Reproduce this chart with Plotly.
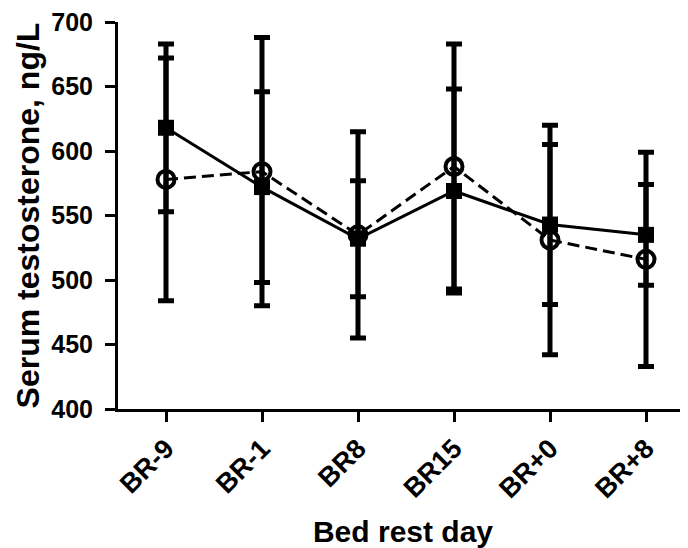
import plotly.graph_objects as go

days = ["BR-9", "BR-1", "BR8", "BR15", "BR+0", "BR+8"]
square_mean = [618, 572, 532, 569, 543, 535]
square_err = [65, 74, 45, 79, 62, 39]
circle_mean = [578, 584, 535, 588, 531, 516]
circle_err = [94, 104, 80, 95, 89, 83]
y_ticks = [400, 450, 500, 550, 600, 650, 700]

FONT = "Liberation Sans"

fig = go.Figure()
fig.add_trace(go.Scatter(
    x=days, y=square_mean, mode="lines+markers",
    line=dict(color="black", width=3),
    marker=dict(symbol="square", size=16, color="black"),
    error_y=dict(type="data", array=square_err, color="black", thickness=5, width=8),
    showlegend=False,
))
fig.add_trace(go.Scatter(
    x=days, y=circle_mean, mode="lines+markers",
    line=dict(color="black", width=3, dash="12px,6px"),
    marker=dict(symbol="circle-open", size=17, color="black", line=dict(width=4, color="black")),
    error_y=dict(type="data", array=circle_err, color="black", thickness=5, width=8),
    showlegend=False,
))

# page body has an 8px default margin, so the figure is 680x540
fig.update_layout(
    width=680, height=540,
    margin=dict(l=110, r=0, t=14, b=139),
    plot_bgcolor="white", paper_bgcolor="white",
    font=dict(family=FONT, color="black"),
    xaxis=dict(
        type="category", range=[-0.5, 5.4375], automargin=False,
        tickangle=-45, ticks="outside", ticklen=10, tickwidth=3, tickcolor="black",
        showline=True, linewidth=3, linecolor="black", showgrid=False, zeroline=False,
        tickfont=dict(family=FONT, size=27, weight="bold", color="black"),
        title=dict(text="Bed rest day", font=dict(family=FONT, size=30, weight="bold", color="black"), standoff=20),
    ),
    yaxis=dict(
        range=[400, 700], tickvals=y_ticks, automargin=False, ticklabeloverflow="allow",
        ticks="outside", ticklen=10, tickwidth=3, tickcolor="black", ticklabelstandoff=7,
        showline=True, linewidth=3, linecolor="black", showgrid=False, zeroline=False,
        tickfont=dict(family=FONT, size=25, weight="bold", color="black"),
    ),
    annotations=[dict(
        text="Serum testosterone, ng/L", textangle=-90,
        xref="paper", yref="paper", x=-0.158, y=0.5, xanchor="center", yanchor="middle",
        showarrow=False, font=dict(family=FONT, size=32, weight="bold", color="black"),
    )],
)

fig.write_html("out.html")
